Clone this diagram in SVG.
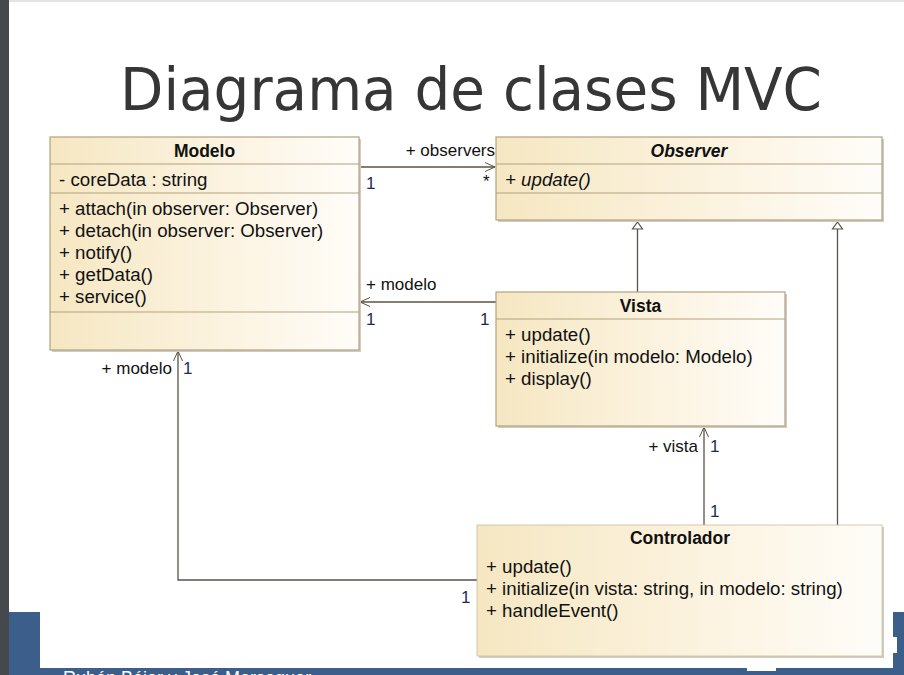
<svg xmlns="http://www.w3.org/2000/svg" width="904" height="675" viewBox="0 0 904 675">
<defs>
<linearGradient id="boxfill" x1="0" y1="0" x2="1" y2="0">
<stop offset="0" stop-color="#f6e7c2"/>
<stop offset="0.6" stop-color="#fcf4e2"/>
<stop offset="1" stop-color="#fffdf9"/>
</linearGradient>
<marker id="open" markerWidth="12" markerHeight="12" refX="10" refY="5" orient="auto" markerUnits="userSpaceOnUse" viewBox="0 0 12 10">
<path d="M0,0.5 L10,5 L0,9.5" fill="none" stroke="#5a5246" stroke-width="1"/>
</marker>
</defs>
<style>
.box{fill:url(#boxfill);stroke:#b2a27f;stroke-width:1.2}
.shadow{fill:#cfcbc3}
.sep{stroke:#b2a27f;stroke-width:1.2}
.name{font-family:"Liberation Sans",Arial,sans-serif;font-size:17.5px;font-weight:bold;fill:#111;text-anchor:middle}
.mem{font-family:"Liberation Sans",Arial,sans-serif;font-size:18.7px;fill:#111}
.lbl{font-family:"Liberation Sans",Arial,sans-serif;font-size:17px;fill:#111}
.mult{font-family:"Liberation Sans",Arial,sans-serif;font-size:17px;fill:#1c2d58}
.edge{fill:none;stroke:#5a5246;stroke-width:1.3}
.gen{fill:#ffffff;stroke:#5a5246;stroke-width:1.2}
</style>
<rect x="0" y="0" width="904" height="675" fill="#ffffff"/>
<rect x="0" y="0" width="9" height="675" fill="#45494c"/>
<rect x="9" y="0" width="895" height="2" fill="#e4e4e4"/>
<g id="footer">
<rect x="9" y="612" width="895" height="63" fill="#3b5e8b"/>
<rect x="40" y="612" width="853" height="56" fill="#ffffff"/>
<rect x="893" y="637" width="4" height="16" fill="#ffffff"/>
<rect x="747" y="668" width="29" height="3" fill="#ffffff"/>
<text x="63" y="684" font-family="'Liberation Sans',Arial,sans-serif" font-size="18" fill="#ffffff">Rubén Béjar y José Merseguer</text>
</g>
<text id="title" x="120" y="110" font-family="'DejaVu Sans Condensed','DejaVu Sans',sans-serif" font-size="58" fill="#363636" textLength="702" lengthAdjust="spacingAndGlyphs">Diagrama de clases MVC</text>
<g id="connectors">
<path class="edge" d="M359,167 H495" marker-end="url(#open)"/>
<path class="edge" d="M496,302 H360" marker-end="url(#open)"/>
<path class="edge" d="M477,580 H178 V351" marker-end="url(#open)"/>
<path class="edge" d="M704,525 V427" marker-end="url(#open)"/>
<path class="edge" d="M637.5,292 V229"/>
<path class="gen" d="M637.5,222 L642.5,229 L632.5,229 Z"/>
<path class="edge" d="M837.5,525 V229"/>
<path class="gen" d="M837.5,222 L842.5,229 L832.5,229 Z"/>
<text class="lbl" x="495" y="156" text-anchor="end">+ observers</text>
<text class="mult" x="366" y="189">1</text>
<text class="lbl" x="483" y="187">*</text>
<text class="lbl" x="366" y="290">+ modelo</text>
<text class="mult" x="366" y="325">1</text>
<text class="mult" x="480" y="325">1</text>
<text class="lbl" x="172" y="374" text-anchor="end">+ modelo</text>
<text class="mult" x="183" y="374">1</text>
<text class="mult" x="461" y="603">1</text>
<text class="lbl" x="698" y="452" text-anchor="end">+ vista</text>
<text class="mult" x="710" y="452">1</text>
<text class="mult" x="710" y="517">1</text>
</g>
<g id="Modelo">
<rect class="shadow" x="52" y="139" width="309" height="213"/>
<rect class="box" x="50" y="137" width="309" height="213"/>
<line class="sep" x1="50" y1="164" x2="359" y2="164"/>
<line class="sep" x1="50" y1="193" x2="359" y2="193"/>
<line class="sep" x1="50" y1="312" x2="359" y2="312"/>
<text class="name" x="204.5" y="157">Modelo</text>
<text class="mem" x="59" y="186">- coreData : string</text>
<text class="mem" x="59" y="215">+ attach(in observer: Observer)</text>
<text class="mem" x="59" y="237">+ detach(in observer: Observer)</text>
<text class="mem" x="59" y="259">+ notify()</text>
<text class="mem" x="59" y="281">+ getData()</text>
<text class="mem" x="59" y="303">+ service()</text>
</g>
<g id="Observer">
<rect class="shadow" x="498" y="139" width="386" height="83"/>
<rect class="box" x="496" y="137" width="386" height="83"/>
<line class="sep" x1="496" y1="164" x2="882" y2="164"/>
<line class="sep" x1="496" y1="193" x2="882" y2="193"/>
<text class="name" x="689" y="157" font-style="italic">Observer</text>
<text class="mem" x="505" y="186" font-style="italic">+ update()</text>
</g>
<g id="Vista">
<rect class="shadow" x="498" y="294" width="289" height="134"/>
<rect class="box" x="496" y="292" width="289" height="134"/>
<line class="sep" x1="496" y1="319" x2="785" y2="319"/>
<text class="name" x="640.5" y="312">Vista</text>
<text class="mem" x="505" y="341">+ update()</text>
<text class="mem" x="505" y="363">+ initialize(in modelo: Modelo)</text>
<text class="mem" x="505" y="385">+ display()</text>
</g>
<g id="Controlador">
<rect class="shadow" x="479" y="527" width="405" height="131"/>
<rect x="477" y="525" width="405" height="131" fill="url(#boxfill)" stroke="#cbbd9c" stroke-width="0.8"/>
<text class="name" x="680" y="544">Controlador</text>
<text class="mem" x="486" y="573">+ update()</text>
<text class="mem" x="486" y="595">+ initialize(in vista: string, in modelo: string)</text>
<text class="mem" x="486" y="617">+ handleEvent()</text>
</g>
</svg>
